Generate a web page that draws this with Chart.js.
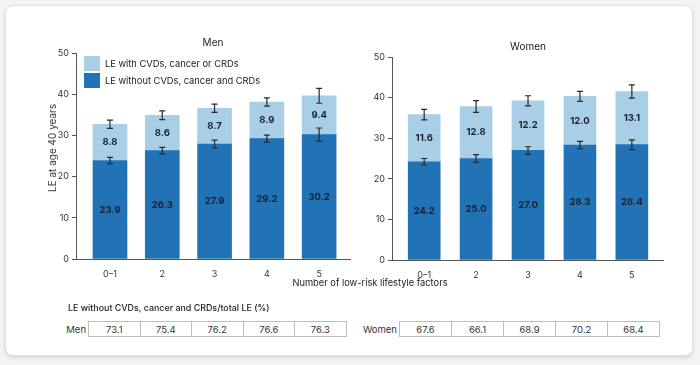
<!DOCTYPE html>
<html>
<head>
<meta charset="utf-8">
<script src="https://cdn.jsdelivr.net/npm/chart.js@4/dist/chart.umd.min.js"></script>
<style>
  html, body { margin:0; padding:0; background:#f4f4f4; width:700px; height:365px; overflow:hidden; font-family: Inter, "Open Sans", sans-serif; }
  #card { position:absolute; left:5px; top:5px; width:686px; height:349px; background:#fff; border:1px solid #e2e2e2; border-radius:8px; box-shadow:0 2px 4px rgba(0,0,0,0.12); }
  .cv { position:absolute; }
  .txt { position:absolute; color:#222; white-space:nowrap; }
  .legend-item { position:absolute; display:flex; align-items:center; font-size:9.3px; color:#222; white-space:nowrap; }
  .legend-item span.box { display:inline-block; width:16px; height:15px; margin-right:5px; }
  table.pct { position:absolute; border-collapse:collapse; font-size:9.5px; color:#333; }
  table.pct td { border:1px solid #bdbdbd; height:14px; padding:0; text-align:center; }
  table.pct td.lab { border:none; text-align:right; padding-right:2px; }
</style>
</head>
<body>
<div id="card"></div>
<canvas id="men" class="cv" width="360" height="300" style="left:0;top:0;width:360px;height:300px"></canvas>
<canvas id="women" class="cv" width="340" height="300" style="left:360px;top:0;width:340px;height:300px"></canvas>

<div class="txt" style="left:213px;top:36px;font-size:10px;transform:translateX(-50%)">Men</div>
<div class="txt" style="left:528px;top:40px;font-size:10px;transform:translateX(-50%)">Women</div>
<div class="txt" style="left:52px;top:148px;font-size:10px;color:#333;transform:translate(-50%,-50%) rotate(-90deg)">LE at age 40 years</div>
<div class="txt" style="left:370px;top:277px;font-size:9.3px;transform:translateX(-50%)">Number of low-risk lifestyle factors</div>

<div id="legend"></div>

<div class="txt" style="left:68px;top:302px;font-size:8.9px;font-weight:500">LE without CVDs, cancer and CRDs/total LE (%)</div>
<table class="pct" id="menTable" style="left:58px;top:321px"></table>
<table class="pct" id="womenTable" style="left:360px;top:321px"></table>

<script>
// ---- data ----
const categories = ['0–1', '2', '3', '4', '5'];
const seriesNames = ['LE without CVDs, cancer and CRDs', 'LE with CVDs, cancer or CRDs'];
const menHealthy = [23.9, 26.3, 27.9, 29.2, 30.2];
const menDisease = [8.8, 8.6, 8.7, 8.9, 9.4];
const womenHealthy = [24.2, 25.0, 27.0, 28.3, 28.4];
const womenDisease = [11.6, 12.8, 12.2, 12.0, 13.1];
// half-width of 95% CI error bars
const menHealthyErr = [0.75, 0.8, 0.95, 0.85, 1.6];
const menTotalErr = [1.0, 1.05, 1.0, 1.0, 1.8];
const womenHealthyErr = [0.8, 0.95, 0.9, 0.9, 1.2];
const womenTotalErr = [1.3, 1.45, 1.25, 1.25, 1.65];
// table
const menPct = ['73.1', '75.4', '76.2', '76.6', '76.3'];
const womenPct = ['67.6', '66.1', '68.9', '70.2', '68.4'];
const yTicks = [0, 10, 20, 30, 40, 50];

const DARK = '#2273b6';
const LIGHT = '#a8cfe6';

// legend
const legendEl = document.getElementById('legend');
[[seriesNames[1], LIGHT, 56], [seriesNames[0], DARK, 73]].forEach(([name, col, top]) => {
  const d = document.createElement('div');
  d.className = 'legend-item';
  d.style.left = '84px'; d.style.top = top + 'px';
  d.innerHTML = '<span class="box" style="background:' + col + '"></span>' + name;
  legendEl.appendChild(d);
});

// tables
function buildTable(id, label, vals, labW, cellW) {
  const t = document.getElementById(id);
  let html = '<tr><td class="lab" style="width:' + labW + 'px">' + label + '</td>';
  vals.forEach(v => html += '<td style="width:' + cellW + 'px">' + v + '</td>');
  t.innerHTML = html + '</tr>';
}
buildTable('menTable', 'Men', menPct, 28, 50.5);
buildTable('womenTable', 'Women', womenPct, 37, 51);

// plugins
const errorBarPlugin = {
  id: 'errorBars',
  afterDatasetsDraw(chart, args, opts) {
    const ctx = chart.ctx;
    const xs = chart.scales.x, ys = chart.scales.y;
    const healthy = chart.data.datasets[0].data;
    const disease = chart.data.datasets[1].data;
    ctx.save();
    ctx.strokeStyle = '#2a2a2a';
    ctx.lineWidth = 1.2;
    healthy.forEach((p, i) => {
      const x = xs.getPixelForValue(p.x);
      const tops = [[p.y, opts.healthyErr[i]], [p.y + disease[i].y, opts.totalErr[i]]];
      tops.forEach(([v, e]) => {
        const y1 = ys.getPixelForValue(v + e), y2 = ys.getPixelForValue(v - e);
        ctx.beginPath();
        ctx.moveTo(x, y1); ctx.lineTo(x, y2);
        ctx.moveTo(x - 3, y1); ctx.lineTo(x + 3, y1);
        ctx.moveTo(x - 3, y2); ctx.lineTo(x + 3, y2);
        ctx.stroke();
      });
    });
    ctx.restore();
  }
};
const valueLabelPlugin = {
  id: 'valueLabels',
  afterDatasetsDraw(chart) {
    const ctx = chart.ctx;
    const xs = chart.scales.x, ys = chart.scales.y;
    ctx.save();
    ctx.font = 'bold 9.5px Inter, "Open Sans", sans-serif';
    ctx.fillStyle = '#1c1f33';
    ctx.textAlign = 'center';
    ctx.textBaseline = 'middle';
    const h = chart.data.datasets[0].data, d = chart.data.datasets[1].data;
    h.forEach((p, i) => {
      const x = xs.getPixelForValue(p.x);
      ctx.fillText(p.y.toFixed(1), x, ys.getPixelForValue(p.y / 2));
      ctx.fillText(d[i].y.toFixed(1), x, ys.getPixelForValue(p.y + d[i].y / 2));
    });
    ctx.restore();
  }
};

function makeChart(id, healthy, disease, hErr, tErr, cfg) {
  const toPts = arr => arr.map((v, i) => ({ x: i, y: v }));
  return new Chart(document.getElementById(id), {
    type: 'bar',
    data: {
      datasets: [
        { label: seriesNames[0], data: toPts(healthy), backgroundColor: DARK, barThickness: cfg.barW },
        { label: seriesNames[1], data: toPts(disease), backgroundColor: LIGHT, barThickness: cfg.barW }
      ]
    },
    options: {
      responsive: false,
      animation: false,
      devicePixelRatio: 1,
      layout: { padding: cfg.padding },
      plugins: {
        legend: { display: false },
        tooltip: { enabled: false },
        errorBars: { healthyErr: hErr, totalErr: tErr }
      },
      scales: {
        x: {
          type: 'linear', stacked: true, offset: false,
          min: cfg.xmin, max: cfg.xmax,
          afterFit: s => { s.height = cfg.xH; },
          afterBuildTicks: s => { s.ticks = categories.map((c, i) => ({ value: i })); },
          ticks: {
            callback: v => categories[v] ?? '',
            font: { size: 9, family: 'Inter, "Open Sans", sans-serif' }, color: '#333',
            padding: 2, maxRotation: 0, autoSkip: false
          },
          grid: { display: false },
          border: { color: '#555', width: 1 }
        },
        y: {
          stacked: true, min: 0, max: 50,
          afterFit: s => { s.width = cfg.yW; },
          afterBuildTicks: s => { s.ticks = yTicks.map(v => ({ value: v })); },
          ticks: { font: { size: 9, family: 'Inter, "Open Sans", sans-serif' }, color: '#333', padding: 3 },
          grid: { drawOnChartArea: false, drawTicks: true, tickLength: 4, color: '#555' },
          border: { color: '#555', width: 1 }
        }
      }
    },
    plugins: [errorBarPlugin, valueLabelPlugin]
  });
}

makeChart('men', menHealthy, menDisease, menHealthyErr, menTotalErr,
  { padding: { left: 40, right: 10, top: 53, bottom: 0 }, yW: 36, xH: 41, xmin: -0.65, xmax: 4.59, barW: 34 });
makeChart('women', womenHealthy, womenDisease, womenHealthyErr, womenTotalErr,
  { padding: { left: 0, right: 37, top: 57, bottom: 0 }, yW: 32, xH: 40, xmin: -0.62, xmax: 4.6, barW: 32 });
</script>
</body>
</html>
